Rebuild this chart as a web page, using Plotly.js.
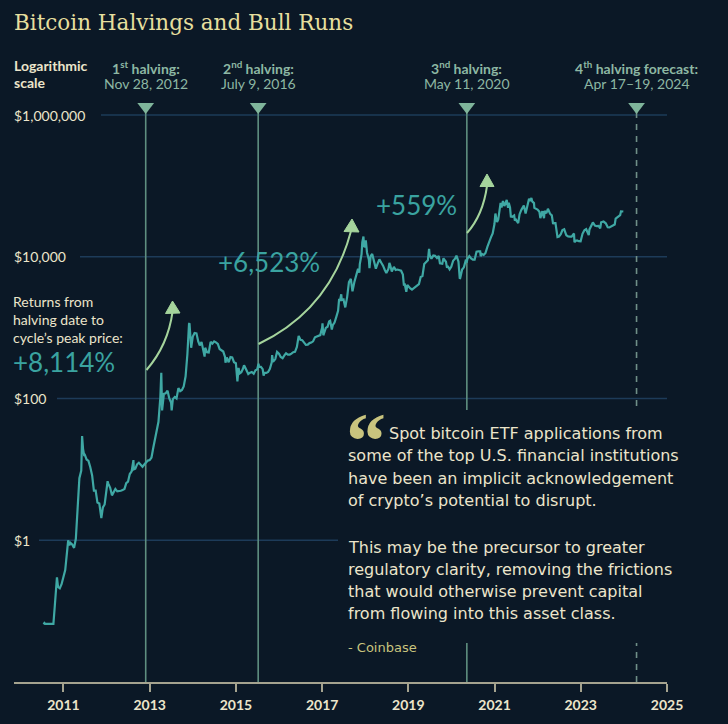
<!DOCTYPE html>
<html>
<head>
<meta charset="utf-8">
<script src="https://cdn.plot.ly/plotly-3.0.1.min.js"></script>
<style>
html,body{margin:0;padding:0;background:#0b1826;}
#chart{width:728px;height:724px;}
</style>
</head>
<body>
<div id="chart"></div>
<script>
// ---------------- DATA ----------------
const priceDates = [
'2010-07-17','2010-07-24','2010-08-01','2010-08-16','2010-09-01','2010-09-16','2010-10-01','2010-10-08','2010-10-20','2010-11-01','2010-11-07','2010-11-16','2010-12-01','2010-12-16',
'2011-01-01','2011-01-16','2011-02-01','2011-02-10','2011-02-20','2011-03-01','2011-03-16','2011-04-01','2011-04-16','2011-05-01','2011-05-16','2011-06-01','2011-06-08','2011-06-16','2011-06-25','2011-07-01','2011-07-16','2011-08-01','2011-08-16','2011-09-01','2011-09-16','2011-10-01','2011-10-16','2011-11-01','2011-11-18','2011-12-01','2011-12-16',
'2012-01-01','2012-01-10','2012-01-16','2012-02-01','2012-02-16','2012-03-01','2012-03-16','2012-04-01','2012-04-16','2012-05-01','2012-05-16','2012-06-01','2012-06-16','2012-07-01','2012-07-16','2012-08-01','2012-08-16','2012-08-19','2012-09-01','2012-09-16','2012-10-01','2012-10-16','2012-11-01','2012-11-16','2012-12-01','2012-12-16',
'2013-01-01','2013-01-16','2013-02-01','2013-02-16','2013-03-01','2013-03-16','2013-04-01','2013-04-09','2013-04-16','2013-05-01','2013-05-16','2013-06-01','2013-06-16','2013-07-01','2013-07-06','2013-07-16','2013-08-01','2013-08-16','2013-09-01','2013-09-16','2013-10-01','2013-10-16','2013-11-01','2013-11-16','2013-11-30','2013-12-04','2013-12-18','2013-12-25',
'2014-01-01','2014-01-16','2014-02-01','2014-02-16','2014-03-01','2014-03-16','2014-04-01','2014-04-11','2014-04-16','2014-05-01','2014-05-16','2014-06-01','2014-06-16','2014-07-01','2014-07-16','2014-08-01','2014-08-16','2014-09-01','2014-09-16','2014-10-01','2014-10-05','2014-10-16','2014-11-01','2014-11-16','2014-12-01','2014-12-16',
'2015-01-01','2015-01-14','2015-01-24','2015-02-01','2015-02-16','2015-03-01','2015-03-11','2015-03-16','2015-04-01','2015-04-16','2015-05-01','2015-05-16','2015-06-01','2015-06-16','2015-07-01','2015-07-12','2015-07-16','2015-08-01','2015-08-16','2015-08-24','2015-09-01','2015-09-16','2015-10-01','2015-10-16','2015-11-01','2015-11-04','2015-11-12','2015-11-16','2015-12-01','2015-12-16',
'2016-01-01','2016-01-16','2016-02-01','2016-02-16','2016-03-01','2016-03-16','2016-04-01','2016-04-16','2016-05-01','2016-05-16','2016-06-01','2016-06-16','2016-07-01','2016-07-16','2016-08-01','2016-08-16','2016-09-01','2016-09-16','2016-10-01','2016-10-16','2016-11-01','2016-11-16','2016-12-01','2016-12-16',
'2017-01-01','2017-01-04','2017-01-11','2017-01-16','2017-02-01','2017-02-16','2017-03-01','2017-03-10','2017-03-24','2017-04-01','2017-04-16','2017-05-01','2017-05-16','2017-05-25','2017-06-01','2017-06-12','2017-06-16','2017-07-01','2017-07-16','2017-08-01','2017-08-16','2017-09-01','2017-09-15','2017-10-01','2017-10-16','2017-11-01','2017-11-12','2017-11-16','2017-12-01','2017-12-07','2017-12-17','2017-12-22','2017-12-31',
'2018-01-06','2018-01-16','2018-02-01','2018-02-06','2018-02-16','2018-03-01','2018-03-16','2018-04-01','2018-04-16','2018-05-01','2018-05-16','2018-06-01','2018-06-16','2018-06-29','2018-07-16','2018-07-25','2018-08-01','2018-08-14','2018-09-01','2018-09-16','2018-10-01','2018-10-16','2018-11-01','2018-11-16','2018-11-25','2018-12-01','2018-12-15','2018-12-24',
'2019-01-01','2019-01-16','2019-02-01','2019-02-16','2019-03-01','2019-03-16','2019-04-01','2019-04-16','2019-05-01','2019-05-16','2019-06-01','2019-06-16','2019-06-26','2019-07-01','2019-07-16','2019-08-01','2019-08-16','2019-09-01','2019-09-16','2019-09-26','2019-10-16','2019-10-26','2019-11-01','2019-11-16','2019-11-25','2019-12-01','2019-12-17','2019-12-31',
'2020-01-16','2020-02-01','2020-02-13','2020-03-01','2020-03-12','2020-03-16','2020-04-01','2020-04-16','2020-05-01','2020-05-11','2020-05-16','2020-06-01','2020-06-16','2020-07-01','2020-07-16','2020-08-01','2020-08-16','2020-09-01','2020-09-05','2020-09-16','2020-10-01','2020-10-16','2020-11-01','2020-11-16','2020-12-01','2020-12-16','2020-12-31',
'2021-01-08','2021-01-22','2021-02-01','2021-02-16','2021-02-21','2021-03-01','2021-03-13','2021-03-25','2021-04-14','2021-04-25','2021-05-01','2021-05-12','2021-05-19','2021-06-01','2021-06-16','2021-06-22','2021-07-01','2021-07-20','2021-08-01','2021-08-16','2021-09-06','2021-09-21','2021-10-01','2021-10-20','2021-11-01','2021-11-09','2021-11-16','2021-12-01','2021-12-04','2021-12-16','2021-12-31',
'2022-01-16','2022-01-24','2022-02-10','2022-02-24','2022-03-01','2022-03-16','2022-03-29','2022-04-16','2022-05-01','2022-05-12','2022-05-16','2022-06-01','2022-06-18','2022-07-01','2022-07-16','2022-07-30','2022-08-14','2022-09-01','2022-09-16','2022-10-01','2022-10-16','2022-11-05','2022-11-09','2022-11-16','2022-12-01','2022-12-16','2022-12-31',
'2023-01-16','2023-02-01','2023-02-16','2023-03-10','2023-03-16','2023-04-01','2023-04-14','2023-05-01','2023-05-16','2023-06-01','2023-06-15','2023-06-23','2023-07-13','2023-08-01','2023-08-18','2023-09-01','2023-09-16','2023-10-01','2023-10-16','2023-10-24','2023-11-01','2023-11-16','2023-12-01','2023-12-08','2023-12-20','2023-12-28'
];
const priceValues = [
0.065,0.068,0.066,0.066,0.065,0.065,0.066,0.066,0.12,0.20,0.30,0.22,0.21,0.24,
0.30,0.38,0.70,1.0,0.85,0.92,0.87,0.78,1.05,3.2,7.5,9.6,29.6,19.5,16.0,16.1,13.8,13.2,10.8,8.2,5.0,5.0,3.4,3.3,2.05,2.9,3.2,
4.7,6.8,6.3,5.5,4.3,4.9,5.3,4.9,4.9,5.0,5.1,5.3,6.4,6.7,8.6,9.4,13.5,10.0,10.2,11.8,12.4,11.8,10.9,11.7,12.6,13.3,
13.5,14.7,20.5,27,34,47,104,230,68,116,118,129,100,88,68,98,105,100,140,127,132,148,206,420,1130,1150,520,680,
750,840,830,640,560,630,470,390,520,450,445,630,595,640,620,590,500,480,460,385,320,380,325,385,380,325,
315,175,270,225,235,260,295,285,245,222,232,237,224,250,258,310,280,280,260,210,230,230,237,262,325,410,330,335,360,455,
430,385,370,405,435,415,417,430,450,455,535,765,675,665,620,570,575,605,615,640,730,745,755,785,
1000,1150,780,830,990,1030,1220,1250,940,1080,1180,1420,1730,2550,2400,2950,2450,2500,1930,2720,4380,4890,3250,4400,5700,6740,5950,7870,10900,16000,19300,13800,14150,
17100,11500,9100,6900,10200,10950,8300,6800,8000,9200,8300,7500,6500,5900,6700,8200,7600,6200,7200,6500,6600,6500,6350,5600,3900,4200,3200,4000,
3800,3600,3450,3600,3800,4000,4100,5200,5350,7900,8550,8900,12900,10600,9400,10400,10300,9600,10250,8100,8000,9500,9150,8500,7000,7400,6650,7200,
8800,9400,10350,8550,4900,5000,6600,7100,8800,8600,9400,10200,9450,9100,9100,11800,11900,11900,10200,10950,10600,11300,13800,16700,18800,21300,29000,
40800,30800,33500,48900,57500,49600,61200,52000,63500,49000,57800,49700,37000,36700,38300,32500,33500,29800,39900,45900,52700,40700,48200,65900,61300,67600,60400,57200,49000,47600,46300,
43100,35000,44000,35000,44400,41100,47500,40500,38400,28900,29800,29800,19000,19300,20800,23800,24400,20100,19400,19300,19200,21300,16000,16700,17000,16600,16550,
21100,23700,24500,20200,24300,28500,30500,27600,27000,27200,25100,30700,31400,29700,26100,25900,26600,27900,28500,34500,35400,37900,38700,43800,43600,43500
];

const halvingPositions = ['2012-11-28', '2015-07-09', '2020-05-11', '2024-04-18'];
const halvingTitles = ['1<sup>st</sup> halving:', '2<sup>nd</sup> halving:', '3<sup>nd</sup> halving:', '4<sup>th</sup> halving forecast:'];
const halvingDateLabels = ['Nov 28, 2012', 'July 9, 2016', 'May 11, 2020', 'Apr 17–19, 2024'];

const yTickValues = [1, 100, 10000, 1000000];
const yTickLabels = ['$1', '$100', '$10,000', '$1,000,000'];
const xTickValues = ['2011-01-01','2013-01-01','2015-01-01','2017-01-01','2019-01-01','2021-01-01','2023-01-01','2025-01-01'];
const xTickLabels = ['2011','2013','2015','2017','2019','2021','2023','2025'];

const cycleReturns = ['+8,114%', '+6,523%', '+559%'];
const returnsNote = ['Returns from', 'halving date to', 'cycle’s peak price:'];
const scaleNote = ['Logarithmic', 'scale'];
const chartTitle = 'Bitcoin Halvings and Bull Runs';
const quoteParagraph1 = ['Spot bitcoin ETF applications from', 'some of the top U.S. financial institutions', 'have been an implicit acknowledgement', 'of crypto’s potential to disrupt.'];
const quoteParagraph2 = ['This may be the precursor to greater', 'regulatory clarity, removing the frictions', 'that would otherwise prevent capital', 'from flowing into this asset class.'];
const quoteSource = '- Coinbase';

// ---------------- STYLE / LAYOUT ----------------
const W = 728, H = 724;
const M = {l: 14, r: 61, t: 100, b: 42};
const PW = W - M.l - M.r, PH = H - M.t - M.b;
const px = x => (x - M.l) / PW;
const py = y => (H - M.b - y) / PH;

const BG = '#0b1826';
const CREAM = '#ece5cb';
const TITLE_C = '#e6df9e';
const SAGE = '#8db7a3';
const SAGE_LINE = '#5f8f80';
const TEAL = '#3fa8a4';
const TEAL_TXT = '#3aa3a0';
const GRID = '#1d3b59';
const ARROW = '#a5d49c';
const OLIVE = '#c9c47e';
const AXIS = '#a5a38f';

const gridStarts = [39, 57, 80, 101];
const triangleY = 1.31e6;

function txt(text, x, y, font, extra) {
  return Object.assign({text: text, xref: 'paper', yref: 'paper', x: px(x), y: py(y),
    xanchor: 'left', yanchor: 'middle', showarrow: false, font: font}, extra || {});
}
const F = (size, color, weight, family) => ({family: family || 'Lato', size: size, color: color, weight: weight || 400});

const annotations = [];
annotations.push(txt(chartTitle, 12, 22, F(21.5, TITLE_C, 400, 'DejaVu Serif')));
scaleNote.forEach((t, i) => annotations.push(txt(t, 12, 65.5 + i * 17, F(14, CREAM, 700))));
yTickValues.forEach((v, i) => annotations.push({text: yTickLabels[i], xref: 'paper', yref: 'y', x: px(12), y: Math.log10(v),
  xanchor: 'left', yanchor: 'middle', showarrow: false, font: F(14, CREAM, 400)}));
halvingTitles.forEach((t, i) => {
  annotations.push({text: t, xref: 'x', yref: 'paper', x: halvingPositions[i], y: py(68), xanchor: 'center', yanchor: 'middle', showarrow: false, font: F(14, SAGE, 700)});
  annotations.push({text: halvingDateLabels[i], xref: 'x', yref: 'paper', x: halvingPositions[i], y: py(83), xanchor: 'center', yanchor: 'middle', showarrow: false, font: F(14, SAGE, 400)});
});
returnsNote.forEach((t, i) => annotations.push(txt(t, 11, 301 + i * 18, F(14, CREAM, 400))));
const returnPos = [[11, 362], [216, 262], [374, 205]];
cycleReturns.forEach((t, i) => annotations.push(txt(t, returnPos[i][0], returnPos[i][1], F(26, TEAL_TXT, 400))));

annotations.push(txt('“', 344, 441, F(80, OLIVE, 700, 'Liberation Serif')));
quoteParagraph1.forEach((t, i) => annotations.push(txt(t, i === 0 ? 387 : 346, 433 + i * 22.5, F(16, CREAM, 400, 'DejaVu Sans'))));
quoteParagraph2.forEach((t, i) => annotations.push(txt(t, 346, 547 + i * 22.2, F(16, CREAM, 400, 'DejaVu Sans'))));
annotations.push(txt(quoteSource, 346, 647, F(13, OLIVE, 400, 'DejaVu Sans')));

const shapes = [];
yTickValues.forEach((v, i) => shapes.push({type: 'line', xref: 'paper', yref: 'y', x0: px(gridStarts[i]), x1: 1, y0: v, y1: v,
  line: {color: GRID, width: 1.6}, layer: 'below'}));
halvingPositions.forEach((d, i) => shapes.push({type: 'line', xref: 'x', yref: 'paper', x0: d, x1: d, y0: 0, y1: py(108),
  line: {color: i === 3 ? '#6f8f88' : SAGE_LINE, width: 1.6, dash: i === 3 ? '6px,6px' : 'solid'}, layer: 'below'}));

const arrows = [
  {s: [146.5, 370], c: [168, 345], e: [172.5, 312], h: [[172.5, 301], [165.5, 313.5], [180, 313]]},
  {s: [258.5, 344], c: [330, 310], e: [351, 231], h: [[352, 219], [344, 231.5], [359, 232]]},
  {s: [467, 233], c: [483, 215], e: [487, 186], h: [[487, 174], [480, 186.5], [494, 186.5]]}
];
const P = p => px(p[0]) + ',' + py(p[1]);
arrows.forEach(a => {
  shapes.push({type: 'path', xref: 'paper', yref: 'paper', path: 'M' + P(a.s) + ' Q' + P(a.c) + ' ' + P(a.e),
    line: {color: ARROW, width: 2}, layer: 'above'});
  shapes.push({type: 'path', xref: 'paper', yref: 'paper', path: 'M' + P(a.h[0]) + ' L' + P(a.h[1]) + ' L' + P(a.h[2]) + ' Z',
    fillcolor: ARROW, line: {color: ARROW, width: 1}, layer: 'above'});
});
// quote panel masks the lines behind it
shapes.push({type: 'rect', xref: 'paper', yref: 'paper', x0: px(338), x1: px(712), y0: py(643), y1: py(410),
  fillcolor: BG, line: {width: 0}, layer: 'above'});

const traces = [
  {x: priceDates, y: priceValues, type: 'scatter', mode: 'lines', line: {color: TEAL, width: 2.2}, hoverinfo: 'skip'},
  {x: halvingPositions, y: halvingPositions.map(() => triangleY), type: 'scatter', mode: 'markers',
   marker: {symbol: 'triangle-down', size: 14.5, color: '#7fb59b'}, cliponaxis: false, hoverinfo: 'skip'}
];

const layout = {
  width: W, height: H, margin: M, paper_bgcolor: BG, plot_bgcolor: BG, showlegend: false,
  xaxis: {type: 'date', range: ['2009-11-08', '2025-01-01'], tickvals: xTickValues, ticktext: xTickLabels,
    ticks: 'outside', ticklen: 8, tickwidth: 2, tickcolor: AXIS, showline: true, linecolor: AXIS, linewidth: 2,
    showgrid: false, zeroline: false, ticklabelstandoff: 1, tickfont: F(14, CREAM, 700)},
  yaxis: {type: 'log', range: [-2, 6.212], showticklabels: false,
    showgrid: false, zeroline: false, showline: false, ticks: ''},
  shapes: shapes, annotations: annotations
};

Plotly.newPlot('chart', traces, layout, {displayModeBar: false, staticPlot: true});
</script>
</body>
</html>
